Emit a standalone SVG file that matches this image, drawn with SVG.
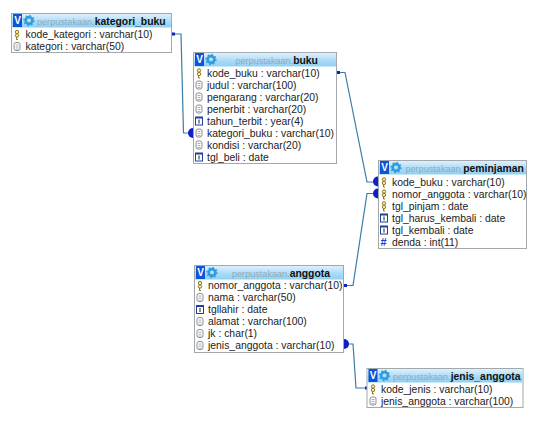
<svg xmlns="http://www.w3.org/2000/svg" width="545" height="423" viewBox="0 0 545 423">
<style>
text{font-family:"Liberation Sans",Arial,sans-serif;font-size:10.400px;fill:#222}
.h{font-size:9.100px;fill:#93a9b9}
.h tspan{font-weight:700;fill:#111;font-size:10.400px}
.box{fill:#fff;stroke:#a2a8ac;stroke-width:1}
.link{fill:none;stroke:#3a7ca5;stroke-width:1.2}
.end{fill:#1020c8}
.gear{fill:none;stroke:#2f9be0;stroke-width:2.6}
.teeth{fill:none;stroke:#2f9be0;stroke-width:1.4;stroke-dasharray:1.5 2.4}
.v{fill:#0c54d8}
.vt{font-size:10px;font-weight:700;fill:#fff;text-anchor:middle}
.col{fill:none;stroke:#8a8f92;stroke-width:1}
.num{fill:#fff;stroke:#1f3f9f;stroke-width:1}
.hash{font-size:11px;font-weight:700;fill:#1a3fc0}
.keyi{fill:#f4e9a8;stroke:#8f7a20;stroke-width:1}
</style>
<defs>
<linearGradient id="hd" x1="0" y1="0" x2="0" y2="1"><stop offset="0" stop-color="#dff0fb"/><stop offset=".6" stop-color="#a6daf7"/><stop offset="1" stop-color="#8fd0f4"/></linearGradient>
<g id="title"><rect x="0" y="0" width="9" height="13" class="v"/><text x="4.500" y="10" class="vt">V</text><circle cx="16" cy="6.500" r="3.400" class="gear"/><circle cx="16" cy="6.500" r="5" class="teeth"/></g>
<g id="k"><circle cx="0" cy="-2.500" r="1.700" class="keyi"/><circle cx="0" cy="1" r="1.700" class="keyi"/><path d="M-0.500 2.500V5H1" class="keyi"/></g>
<g id="c"><rect x="-3" y="-4" width="6" height="8" rx="2" class="col"/><path d="M-1.500-1.500H1.500M-1.500 .5H1.500M-1.500 2.500H1.500" stroke="#8a8f92" stroke-width=".7"/></g>
<g id="n"><rect x="-3.500" y="-3.500" width="7" height="7.500" class="num"/><rect x="-4" y="-4.500" width="8" height="2" fill="#1f3f9f"/><path d="M0-1.500V2.500" stroke="#222" stroke-width="1"/></g>
</defs>
<g id="connectors">
<path class="link" d="M172 34H181L183.500 133H190"/>
<path class="link" d="M337 72.500H345L367 182H375"/>
<path class="link" d="M345 285.500H353L367 193.500H375"/>
<path class="link" d="M347 344H353L356 388H366"/>
<rect class="end" x="172" y="32.500" width="3" height="3"/>
<rect class="end" x="337" y="71" width="3" height="3"/>
<rect class="end" x="344" y="284" width="3" height="3"/>
<rect class="end" x="365" y="386.500" width="3" height="3"/>
<path class="end" d="M193 128A5 5 0 0 0 193 138Z"/>
<path class="end" d="M378 176.500A5 5 0 0 0 378 186.500Z"/>
<path class="end" d="M378 188.500A5 5 0 0 0 378 198.500Z"/>
<path class="end" d="M344 339A5 5 0 0 1 344 349Z"/>
</g>
<g id="kategori_buku">
<rect class="box" x="11.500" y="13.500" width="160" height="39"/>
<rect x="12" y="14" width="159" height="13.500" fill="url(#hd)"/>
<use href="#title" x="13" y="14"/>
<text class="h" x="37" y="24.500">perpustakaan.<tspan>kategori_buku</tspan></text>
<use href="#k" x="17" y="34.500"/><text x="25.500" y="38">kode_kategori : varchar(10)</text>
<use href="#c" x="17" y="46.500"/><text x="25.500" y="50">kategori : varchar(50)</text>
</g>
<g id="buku">
<rect class="box" x="193.500" y="52.500" width="143" height="111"/>
<rect x="194" y="53" width="142" height="13.500" fill="url(#hd)"/>
<use href="#title" x="195" y="53"/>
<text class="h" x="235.500" y="63.500">perpustakaan.<tspan>buku</tspan></text>
<use href="#k" x="199" y="73"/><text x="207" y="76.500">kode_buku : varchar(10)</text>
<use href="#c" x="199" y="85"/><text x="207" y="88.500">judul : varchar(100)</text>
<use href="#c" x="199" y="97"/><text x="207" y="100.500">pengarang : varchar(20)</text>
<use href="#c" x="199" y="109"/><text x="207" y="112.500">penerbit : varchar(20)</text>
<use href="#n" x="199" y="121"/><text x="207" y="124.500">tahun_terbit : year(4)</text>
<use href="#c" x="199" y="133"/><text x="207" y="136.500">kategori_buku : varchar(10)</text>
<use href="#c" x="199" y="145"/><text x="207" y="148.500">kondisi : varchar(20)</text>
<use href="#n" x="199" y="157"/><text x="207" y="160.500">tgl_beli : date</text>
</g>
<g id="peminjaman">
<rect class="box" x="378.500" y="160.500" width="148" height="88"/>
<rect x="379" y="161" width="147" height="13.500" fill="url(#hd)"/>
<use href="#title" x="380" y="161"/>
<text class="h" x="405.500" y="171.500">perpustakaan.<tspan>peminjaman</tspan></text>
<use href="#k" x="384" y="182"/><text x="392" y="185.500">kode_buku : varchar(10)</text>
<use href="#k" x="384" y="194"/><text x="392" y="197.500">nomor_anggota : varchar(10)</text>
<use href="#k" x="384" y="206"/><text x="392" y="209.500">tgl_pinjam : date</text>
<use href="#n" x="384" y="218"/><text x="392" y="221.500">tgl_harus_kembali : date</text>
<use href="#n" x="384" y="230"/><text x="392" y="233.500">tgl_kembali : date</text>
<text class="hash" x="380.500" y="246">#</text><text x="392" y="245.500">denda : int(11)</text>
</g>
<g id="anggota">
<rect class="box" x="194.500" y="265.500" width="149" height="87"/>
<rect x="195" y="266" width="148" height="13.500" fill="url(#hd)"/>
<use href="#title" x="196" y="266"/>
<text class="h" x="232" y="276.500">perpustakaan.<tspan>anggota</tspan></text>
<use href="#k" x="200" y="285.500"/><text x="208" y="289">nomor_anggota : varchar(10)</text>
<use href="#c" x="200" y="297.500"/><text x="208" y="301">nama : varchar(50)</text>
<use href="#n" x="200" y="309.500"/><text x="208" y="313">tgllahir : date</text>
<use href="#c" x="200" y="321.500"/><text x="208" y="325">alamat : varchar(100)</text>
<use href="#c" x="200" y="333.500"/><text x="208" y="337">jk : char(1)</text>
<use href="#c" x="200" y="345.500"/><text x="208" y="349">jenis_anggota : varchar(10)</text>
</g>
<g id="jenis_anggota">
<rect class="box" x="367" y="368.500" width="156" height="39"/>
<rect x="367.500" y="369" width="155" height="13.500" fill="url(#hd)"/>
<use href="#title" x="368.500" y="369"/>
<text class="h" x="393" y="379.500">perpustakaan.<tspan>jenis_anggota</tspan></text>
<use href="#k" x="373" y="389"/><text x="381" y="392.500">kode_jenis : varchar(10)</text>
<use href="#c" x="373" y="401"/><text x="381" y="404.500">jenis_anggota : varchar(100)</text>
</g>
</svg>
